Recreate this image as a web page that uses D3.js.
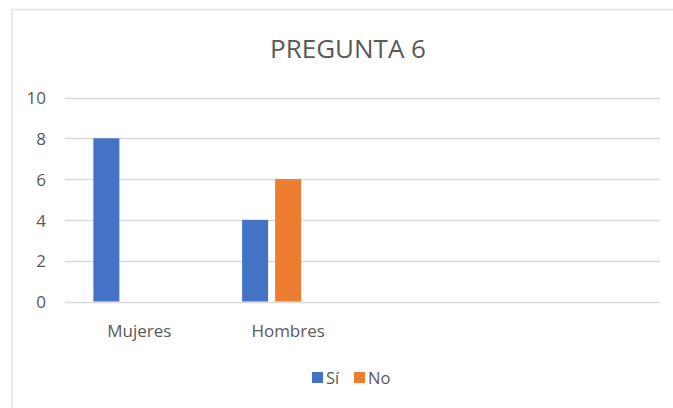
<!DOCTYPE html>
<html>
<head>
<meta charset="utf-8">
<script src="https://cdn.jsdelivr.net/npm/d3@7"></script>
<style>
  html, body { margin: 0; padding: 0; background: #fff; }
  svg { display: block; }
  text { font-family: "Open Sans", "Noto Sans", sans-serif; fill: #595959; }
</style>
</head>
<body>
<svg id="chart" width="673" height="408"></svg>
<script>
const title = "PREGUNTA 6";
const categories = ["Mujeres", "Hombres", "", ""];
const seriesNames = ["Sí", "No"];
const slotNames = ["Sí", "No", "_"];
const siValues = [8, 4, null, null];
const noValues = [0, 6, null, null];
const yTicks = [0, 2, 4, 6, 8, 10];
const colors = { "Sí": "#4472C4", "No": "#ED7D31" };

const svg = d3.select("#chart");
const W = 673, H = 408;

// chart frame
svg.append("rect")
  .attr("x", 12).attr("y", 9.5)
  .attr("width", W).attr("height", H)
  .attr("fill", "#fff")
  .attr("stroke", "#e3e3e3").attr("stroke-width", 1.5);

const plot = { left: 65, right: 660, top: 97.5, bottom: 301.5 };

const x = d3.scaleBand()
  .domain(d3.range(categories.length))
  .range([plot.left, plot.right])
  .padding(0);

const step = x.bandwidth();
const groupW = 92;
const xs = d3.scaleBand()
  .domain(slotNames)
  .range([(step - groupW) / 2, (step + groupW) / 2])
  .paddingInner(0.212)
  .paddingOuter(0);

const y = d3.scaleLinear().domain([0, 10]).range([plot.bottom, plot.top]);

// gridlines
svg.append("g").selectAll("line").data(yTicks).join("line")
  .attr("x1", plot.left).attr("x2", plot.right)
  .attr("y1", d => Math.round(y(d)) + 0.5).attr("y2", d => Math.round(y(d)) + 0.5)
  .attr("stroke", "#d9d9d9").attr("stroke-width", 1.3);

// y axis labels
const yAxis = d3.axisLeft(y).tickValues(yTicks).tickSize(0).tickPadding(0);
const gy = svg.append("g").attr("transform", `translate(46,0)`).call(yAxis);
gy.select(".domain").remove();
gy.attr("font-size", null).attr("font-family", null);
gy.selectAll("text")
  .style("font-size", "17px")
  .attr("fill", "#595959")
  .attr("dy", "0.36em");

// bars
const data = [];
categories.forEach((c, i) => {
  if (siValues[i] != null) data.push({ i, s: "Sí", v: siValues[i] });
  if (noValues[i] != null) data.push({ i, s: "No", v: noValues[i] });
});
svg.append("g").selectAll("rect").data(data.filter(d => d.v > 0)).join("rect")
  .attr("x", d => x(d.i) + xs(d.s))
  .attr("width", xs.bandwidth())
  .attr("y", d => y(d.v))
  .attr("height", d => y(0) - y(d.v))
  .attr("fill", d => colors[d.s]);

// x axis labels
const xAxis = d3.axisBottom(x).tickFormat(i => categories[i]).tickSize(0).tickPadding(0);
const gx = svg.append("g").attr("transform", `translate(0,${plot.bottom})`).call(xAxis);
gx.select(".domain").remove();
gx.attr("font-size", null).attr("font-family", null);
gx.selectAll("text")
  .style("font-size", "17px")
  .attr("fill", "#595959")
  .attr("y", 35).attr("dy", 0);

// title
svg.append("text")
  .attr("x", 348).attr("y", 58)
  .attr("text-anchor", "middle")
  .style("font-size", "26px")
  .text(title);

// legend
const legendItems = [
  { name: seriesNames[0], sx: 312, tx: 326 },
  { name: seriesNames[1], sx: 354, tx: 368 }
];
const lg = svg.append("g");
lg.selectAll("rect").data(legendItems).join("rect")
  .attr("x", d => d.sx).attr("y", 372)
  .attr("width", 11).attr("height", 11)
  .attr("fill", d => colors[d.name]);
lg.selectAll("text").data(legendItems).join("text")
  .attr("x", d => d.tx).attr("y", 384)
  .style("font-size", "16.5px")
  .text(d => d.name);
</script>
</body>
</html>
